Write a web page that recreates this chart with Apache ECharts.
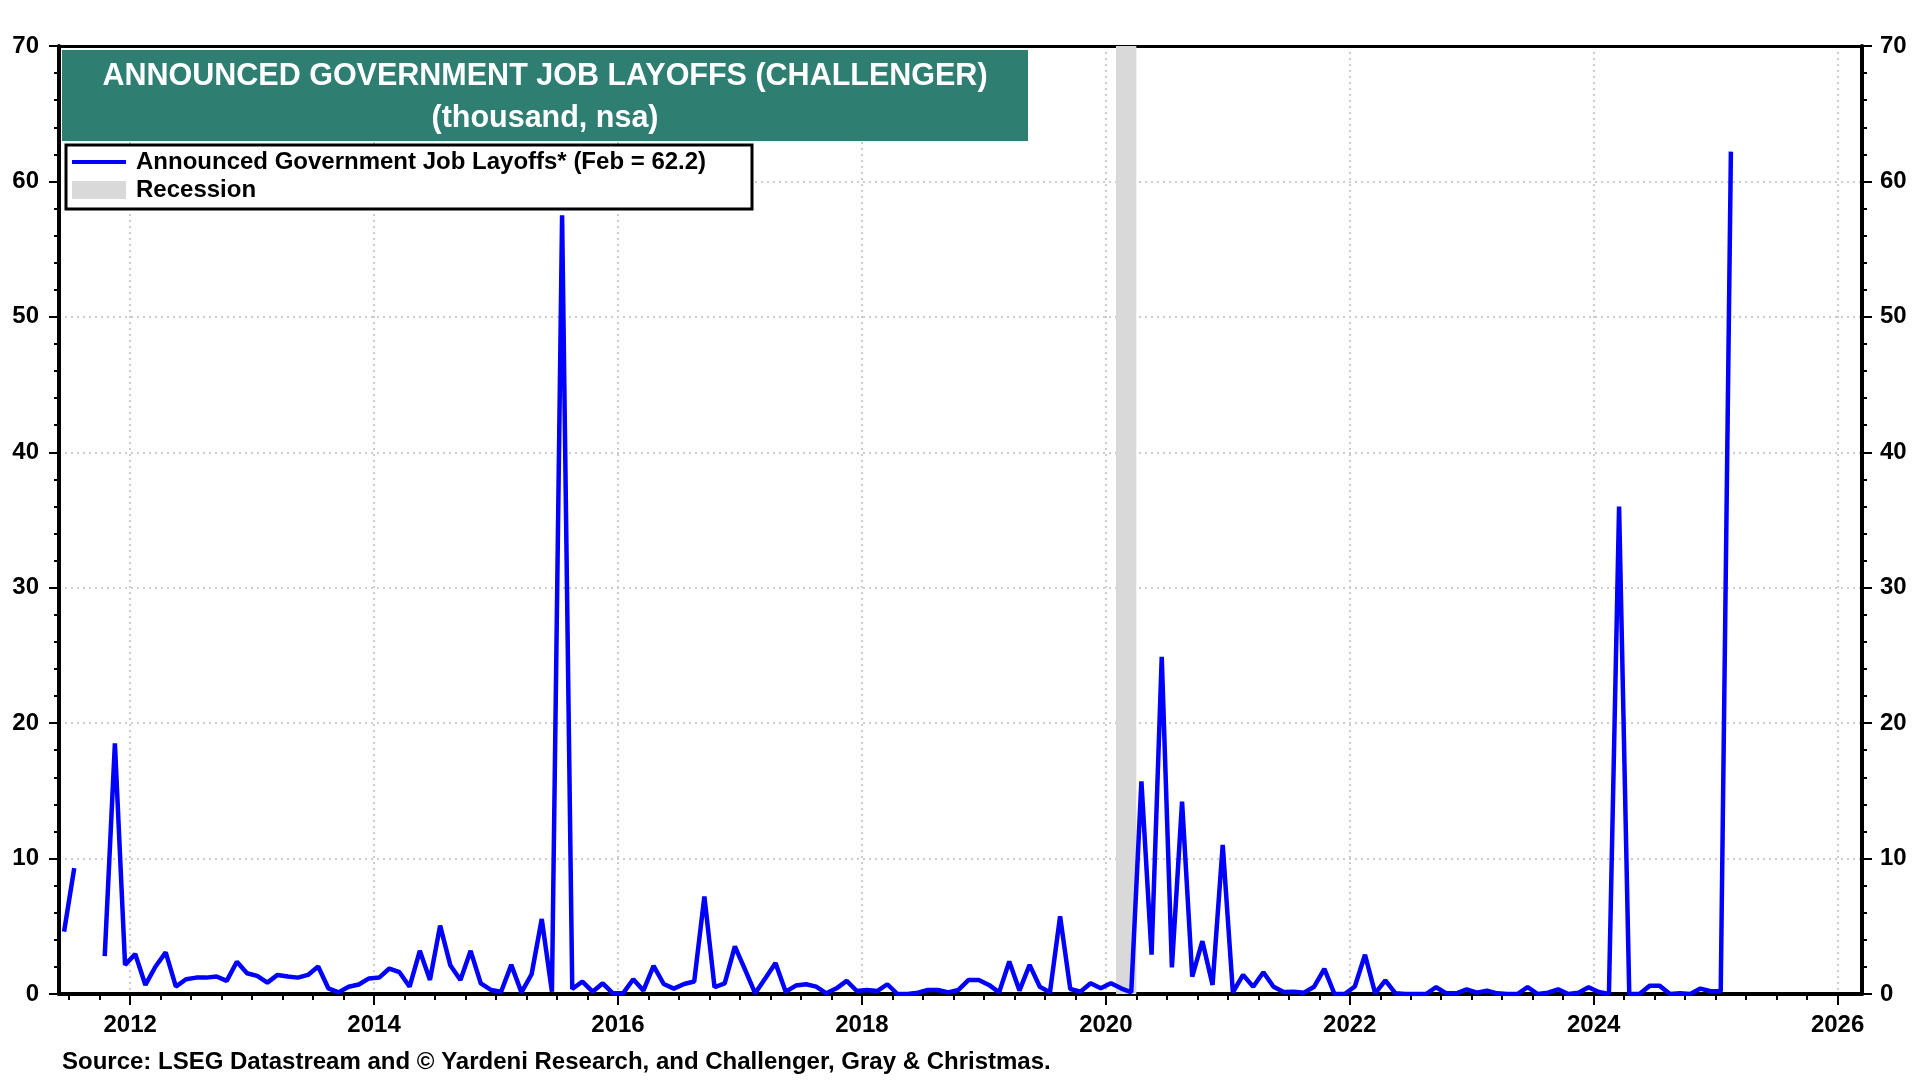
<!DOCTYPE html>
<html><head><meta charset="utf-8">
<script src="https://cdn.jsdelivr.net/npm/echarts@6/dist/echarts.min.js"></script>
<style>html,body{margin:0;padding:0;background:#fff}#c{width:1920px;height:1080px}</style>
</head><body><div id="c"></div>
<script>
// ---- DATA ----
const months = [
 '2011-06','2011-07','2011-08','2011-09','2011-10','2011-11','2011-12',
 '2012-01','2012-02','2012-03','2012-04','2012-05','2012-06','2012-07','2012-08','2012-09','2012-10','2012-11','2012-12',
 '2013-01','2013-02','2013-03','2013-04','2013-05','2013-06','2013-07','2013-08','2013-09','2013-10','2013-11','2013-12',
 '2014-01','2014-02','2014-03','2014-04','2014-05','2014-06','2014-07','2014-08','2014-09','2014-10','2014-11','2014-12',
 '2015-01','2015-02','2015-03','2015-04','2015-05','2015-06','2015-07','2015-08','2015-09','2015-10','2015-11','2015-12',
 '2016-01','2016-02','2016-03','2016-04','2016-05','2016-06','2016-07','2016-08','2016-09','2016-10','2016-11','2016-12',
 '2017-01','2017-02','2017-03','2017-04','2017-05','2017-06','2017-07','2017-08','2017-09','2017-10','2017-11','2017-12',
 '2018-01','2018-02','2018-03','2018-04','2018-05','2018-06','2018-07','2018-08','2018-09','2018-10','2018-11','2018-12',
 '2019-01','2019-02','2019-03','2019-04','2019-05','2019-06','2019-07','2019-08','2019-09','2019-10','2019-11','2019-12',
 '2020-01','2020-02','2020-03','2020-04','2020-05','2020-06','2020-07','2020-08','2020-09','2020-10','2020-11','2020-12',
 '2021-01','2021-02','2021-03','2021-04','2021-05','2021-06','2021-07','2021-08','2021-09','2021-10','2021-11','2021-12',
 '2022-01','2022-02','2022-03','2022-04','2022-05','2022-06','2022-07','2022-08','2022-09','2022-10','2022-11','2022-12',
 '2023-01','2023-02','2023-03','2023-04','2023-05','2023-06','2023-07','2023-08','2023-09','2023-10','2023-11','2023-12',
 '2024-01','2024-02','2024-03','2024-04','2024-05','2024-06','2024-07','2024-08','2024-09','2024-10','2024-11','2024-12',
 '2025-01','2025-02'
];
const layoffs = [
 4.6, 9.3, null, null, 2.8, 18.5, 2.15,
 2.95, 0.67, 2.03, 3.07, 0.54, 1.09, 1.21, 1.21, 1.29, 0.97, 2.38, 1.53,
 1.34, 0.84, 1.41, 1.29, 1.21, 1.41, 2.03, 0.42, 0.12, 0.54, 0.7, 1.15,
 1.21, 1.88, 1.61, 0.54, 3.19, 1.04, 5.05, 2.13, 1.04, 3.19, 0.79, 0.3,
 0.17, 2.15, 0.12, 1.46, 5.54, 0.17, 57.5, 0.37, 0.92, 0.17, 0.79, 0.05,
 0.05, 1.09, 0.25, 2.08, 0.74, 0.4, 0.74, 0.92, 7.2, 0.5, 0.79, 3.51,
 1.8, 0.05, 1.16, 2.28, 0.17, 0.62, 0.72, 0.54, 0.05, 0.42, 0.97, 0.22,
 0.3, 0.22, 0.72, 0, 0, 0.1, 0.3, 0.3, 0.12, 0.3, 1.04, 1.04,
 0.67, 0.12, 2.4, 0.25, 2.15, 0.54, 0.12, 5.74, 0.37, 0.17, 0.79, 0.42,
 0.79, 0.42, 0.12, 15.7, 2.9, 24.9, 1.96, 14.2, 1.29, 3.9, 0.67, 11.0,
 0.12, 1.41, 0.54, 1.61, 0.54, 0.15, 0.17, 0.1, 0.54, 1.86, 0, 0,
 0.55, 2.9, 0.05, 1.0, 0.05, 0, 0, 0, 0.5, 0.05, 0.05, 0.35,
 0.1, 0.25, 0.05, 0, 0, 0.5, 0, 0.1, 0.35, 0, 0.1, 0.5,
 0.15, 0, 36.0, 0, 0, 0.6, 0.6, 0, 0.05, 0, 0.4, 0.2,
 0.2, 62.2
];
const recession = ['2020-02', '2020-03'];      // first and last recession month
const yearLabels = [2012, 2014, 2016, 2018, 2020, 2022, 2024, 2026];
const axisStart = '2011-06';                      // first month shown on the axis
const axisEndYear = 2026.2;
const yTicks = [0, 10, 20, 30, 40, 50, 60, 70];

const seriesName = 'Announced Government Job Layoffs* (Feb = 62.2)';
const titleLine1 = 'ANNOUNCED GOVERNMENT JOB LAYOFFS (CHALLENGER)';
const titleLine2 = '(thousand, nsa)';
const sourceText = 'Source: LSEG Datastream and \u00A9 Yardeni Research, and Challenger, Gray & Christmas.';

// ---- helpers ----
function toYear(ym, frac) {
  const p = ym.split('-').map(Number);
  return p[0] + (p[1] - 1 + frac) / 12;
}
const xMin = toYear(axisStart, 0);
const quarterTicks = [];
for (let q = Math.ceil(xMin * 4); q / 4 <= axisEndYear; q++) quarterTicks.push(q / 4);

const lineData = months.map((m, i) => [toYear(m, 0.5), layoffs[i]]);

const FONT = 'Liberation Sans, Arial, sans-serif';
const GRID_COLOR = '#cccccc';

const chart = echarts.init(document.getElementById('c'), null, {renderer: 'canvas'});
chart.setOption({
  animation: false,
  backgroundColor: '#ffffff',
  grid: {left: 59, right: 58, top: 46, bottom: 86, show: false},
  xAxis: [
    {
      type: 'value', min: xMin, max: axisEndYear, position: 'bottom',
      axisLine: {show: true, onZero: false, lineStyle: {color: '#000', width: 4}},
      axisTick: {show: true, inside: false, length: 6, customValues: quarterTicks, lineStyle: {color: '#000', width: 2}},
      axisLabel: {show: true, customValues: yearLabels, margin: 19, color: '#000', fontSize: 24, fontWeight: 'bold', fontFamily: FONT,
                  formatter: v => String(Math.round(v))},
      splitLine: {show: false}
    },
    {
      type: 'value', min: xMin, max: axisEndYear, position: 'bottom',
      axisLine: {show: false, onZero: false},
      axisTick: {show: true, inside: false, length: 11, customValues: yearLabels, lineStyle: {color: '#000', width: 2}},
      axisLabel: {show: false},
      splitLine: {show: true, lineStyle: {color: GRID_COLOR, width: 2, type: [2, 4]}}
    },
    {
      type: 'value', min: xMin, max: axisEndYear, position: 'top',
      axisLine: {show: true, onZero: false, lineStyle: {color: '#000', width: 3}},
      axisTick: {show: false}, axisLabel: {show: false}, splitLine: {show: false}
    }
  ],
  yAxis: [
    {
      type: 'value', min: yTicks[0], max: yTicks[yTicks.length - 1], interval: 10, position: 'left',
      axisLine: {show: true, onZero: false, lineStyle: {color: '#000', width: 4}},
      axisTick: {show: true, inside: false, length: 10, lineStyle: {color: '#000', width: 2}},
      minorTick: {show: true, splitNumber: 5, length: 5, lineStyle: {color: '#000', width: 2}},
      axisLabel: {margin: 20, color: '#000', fontSize: 24, fontWeight: 'bold', fontFamily: FONT},
      splitLine: {show: true, lineStyle: {color: GRID_COLOR, width: 2, type: [2, 4]}}
    },
    {
      type: 'value', min: yTicks[0], max: yTicks[yTicks.length - 1], interval: 10, position: 'right',
      axisLine: {show: true, onZero: false, lineStyle: {color: '#000', width: 4}},
      axisTick: {show: true, inside: false, length: 10, lineStyle: {color: '#000', width: 2}},
      minorTick: {show: true, splitNumber: 5, length: 5, lineStyle: {color: '#000', width: 2}},
      axisLabel: {margin: 18, color: '#000', fontSize: 24, fontWeight: 'bold', fontFamily: FONT},
      splitLine: {show: false}
    }
  ],
  legend: {
    show: true, orient: 'vertical', left: 72, top: 150, z: 20,
    itemWidth: 54, itemHeight: 18, itemGap: 4, padding: 0,
    selectedMode: false, symbolKeepAspect: true,
    textStyle: {color: '#000', fontSize: 24, fontWeight: 'bold', fontFamily: FONT, padding: [0, 0, 0, 5]},
    data: [
      {name: seriesName, icon: 'path://M0,0L54,0L54,4L0,4Z', itemStyle: {color: '#0000ff'}},
      {name: 'Recession', icon: 'rect', itemStyle: {color: '#d9d9d9'}}
    ]
  },
  series: [
    {
      name: 'Recession', type: 'line', xAxisIndex: 0, yAxisIndex: 0, data: [], z: 1,
      symbol: 'none', itemStyle: {color: '#d9d9d9'}, lineStyle: {color: '#d9d9d9'},
      markArea: {silent: true, itemStyle: {color: '#d9d9d9'},
        data: [[{xAxis: toYear(recession[0], 0)}, {xAxis: toYear(recession[1], 1)}]]}
    },
    {
      name: seriesName, type: 'line', xAxisIndex: 0, yAxisIndex: 0, z: 3,
      data: lineData, connectNulls: false, symbol: 'none', showSymbol: false,
      lineStyle: {color: '#0000ff', width: 4.5}, itemStyle: {color: '#0000ff'}
    }
  ],
  graphic: [
    {type: 'rect', z: 10, shape: {x: 62, y: 50, width: 966, height: 91}, style: {fill: '#2e7e72'}},
    {type: 'text', z: 11, x: 545, y: 77, style: {text: titleLine1, fill: '#fff', font: 'bold 30.5px ' + FONT, textAlign: 'center', textVerticalAlign: 'middle'}},
    {type: 'text', z: 11, x: 545, y: 119, style: {text: titleLine2, fill: '#fff', font: 'bold 30.5px ' + FONT, textAlign: 'center', textVerticalAlign: 'middle'}},
    {type: 'rect', z: 10, shape: {x: 66, y: 145, width: 686, height: 64}, style: {fill: '#fff', stroke: '#000', lineWidth: 3}},
    {type: 'text', z: 11, x: 62, y: 1062, style: {text: sourceText, fill: '#000', font: 'bold 24px ' + FONT, textAlign: 'left', textVerticalAlign: 'middle'}}
  ]
});
</script>
</body></html>
